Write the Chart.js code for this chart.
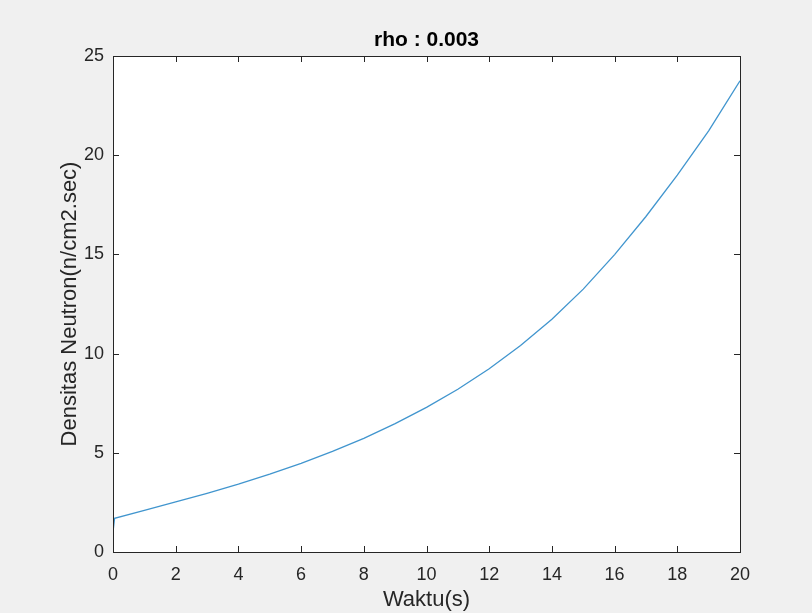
<!DOCTYPE html>
<html>
<head>
<meta charset="utf-8">
<script src="https://cdn.jsdelivr.net/npm/chart.js@4.4.1/dist/chart.umd.min.js"></script>
<style>
  html, body { margin: 0; padding: 0; background: #f0f0f0; }
  #wrap { width: 812px; height: 613px; }
</style>
</head>
<body>
<div id="wrap"><canvas id="rho-chart"></canvas></div>
<script>
// data
const judul = 'rho : 0.003';
const waktu = [0, 0.05, 1, 2, 3, 4, 5, 6, 7, 8, 9, 10, 11, 12, 13, 14, 15, 16, 17, 18, 19, 20];
const densitas = [1.0, 1.70, 2.10, 2.53, 2.96, 3.42, 3.92, 4.47, 5.07, 5.73, 6.47, 7.29, 8.20, 9.24, 10.41, 11.73, 13.25, 14.99, 16.91, 18.99, 21.23, 23.75];
const xTicks = [0, 2, 4, 6, 8, 10, 12, 14, 16, 18, 20];
const yTicks = [0, 5, 10, 15, 20, 25];

const warnaAxis = '#262626';
const huruf = "'Liberation Sans', Arial, Helvetica, sans-serif";

// matlab style box: grey figure, white axes, ticks pointing inside on all sides
const kotakMatlab = {
	id: 'kotakMatlab',
	beforeDraw(chart) {
		const ctx = chart.ctx;
		const a = chart.chartArea;
		ctx.save();
		ctx.fillStyle = '#f0f0f0';
		ctx.fillRect(0, 0, chart.width, chart.height);
		ctx.fillStyle = '#ffffff';
		ctx.fillRect(a.left, a.top, a.right - a.left, a.bottom - a.top);
		ctx.restore();
	},
	afterDatasetsDraw(chart) {
		const ctx = chart.ctx;
		const a = chart.chartArea;
		const sx = chart.scales.x;
		const sy = chart.scales.y;
		const tl = 6;
		ctx.save();
		ctx.strokeStyle = warnaAxis;
		ctx.lineWidth = 1;
		ctx.beginPath();
		xTicks.forEach(function(v) {
			const px = Math.round(sx.getPixelForValue(v)) + 0.5;
			ctx.moveTo(px, a.bottom);
			ctx.lineTo(px, a.bottom - tl);
			ctx.moveTo(px, a.top);
			ctx.lineTo(px, a.top + tl);
		});
		yTicks.forEach(function(v) {
			const py = Math.round(sy.getPixelForValue(v)) + 0.5;
			ctx.moveTo(a.left, py);
			ctx.lineTo(a.left + tl, py);
			ctx.moveTo(a.right, py);
			ctx.lineTo(a.right - tl, py);
		});
		ctx.stroke();
		ctx.strokeRect(Math.round(a.left) + 0.5, Math.round(a.top) + 0.5,
			Math.round(a.right - a.left), Math.round(a.bottom - a.top));

		// title centred on the axes, like matlab does
		ctx.fillStyle = '#000000';
		ctx.font = 'bold 21px ' + huruf;
		ctx.textAlign = 'center';
		ctx.textBaseline = 'alphabetic';
		ctx.fillText(judul, (a.left + a.right) / 2, 46);
		ctx.restore();
	}
};

const data = {
	datasets: [{
		label: judul,
		data: waktu.map(function(t, i) { return { x: t, y: densitas[i] }; }),
		borderColor: 'rgba(0,114,189,0.75)',
		borderWidth: 1.3,
		pointRadius: 0,
		fill: false,
		tension: 0
	}]
};

const config = {
	type: 'line',
	data: data,
	options: {
		responsive: true,
		maintainAspectRatio: false,
		animation: false,
		layout: {
			padding: { top: 56, right: 72, left: 0, bottom: 0 }
		},
		plugins: {
			legend: { display: false },
			title: { display: false },
			tooltip: { enabled: false }
		},
		scales: {
			x: {
				type: 'linear',
				min: 0,
				max: 20,
				afterFit: function(scale) { scale.height = 61; },
				afterBuildTicks: function(scale) {
					scale.ticks = xTicks.map(function(v) { return { value: v }; });
				},
				grid: { display: false, drawTicks: false },
				border: { display: false },
				ticks: {
					padding: 12,
					color: warnaAxis,
					maxRotation: 0,
					font: { family: huruf, size: 18 }
				},
				title: {
					display: true,
					text: 'Waktu(s)',
					color: warnaAxis,
					padding: { top: 0, bottom: 0 },
					font: { family: huruf, size: 22 }
				}
			},
			y: {
				min: 0,
				max: 25,
				afterFit: function(scale) { scale.width = 113; },
				afterBuildTicks: function(scale) {
					scale.ticks = yTicks.map(function(v) { return { value: v }; });
				},
				grid: { display: false, drawTicks: false },
				border: { display: false },
				ticks: {
					padding: 9,
					color: warnaAxis,
					font: { family: huruf, size: 18 }
				},
				title: {
					display: true,
					text: 'Densitas Neutron(n/cm2.sec)',
					color: warnaAxis,
					padding: { top: 57, bottom: 57 },
					font: { family: huruf, size: 22 }
				}
			}
		}
	},
	plugins: [kotakMatlab]
};

const myChart = new Chart(
	document.getElementById('rho-chart'),
	config
);
</script>
</body>
</html>
